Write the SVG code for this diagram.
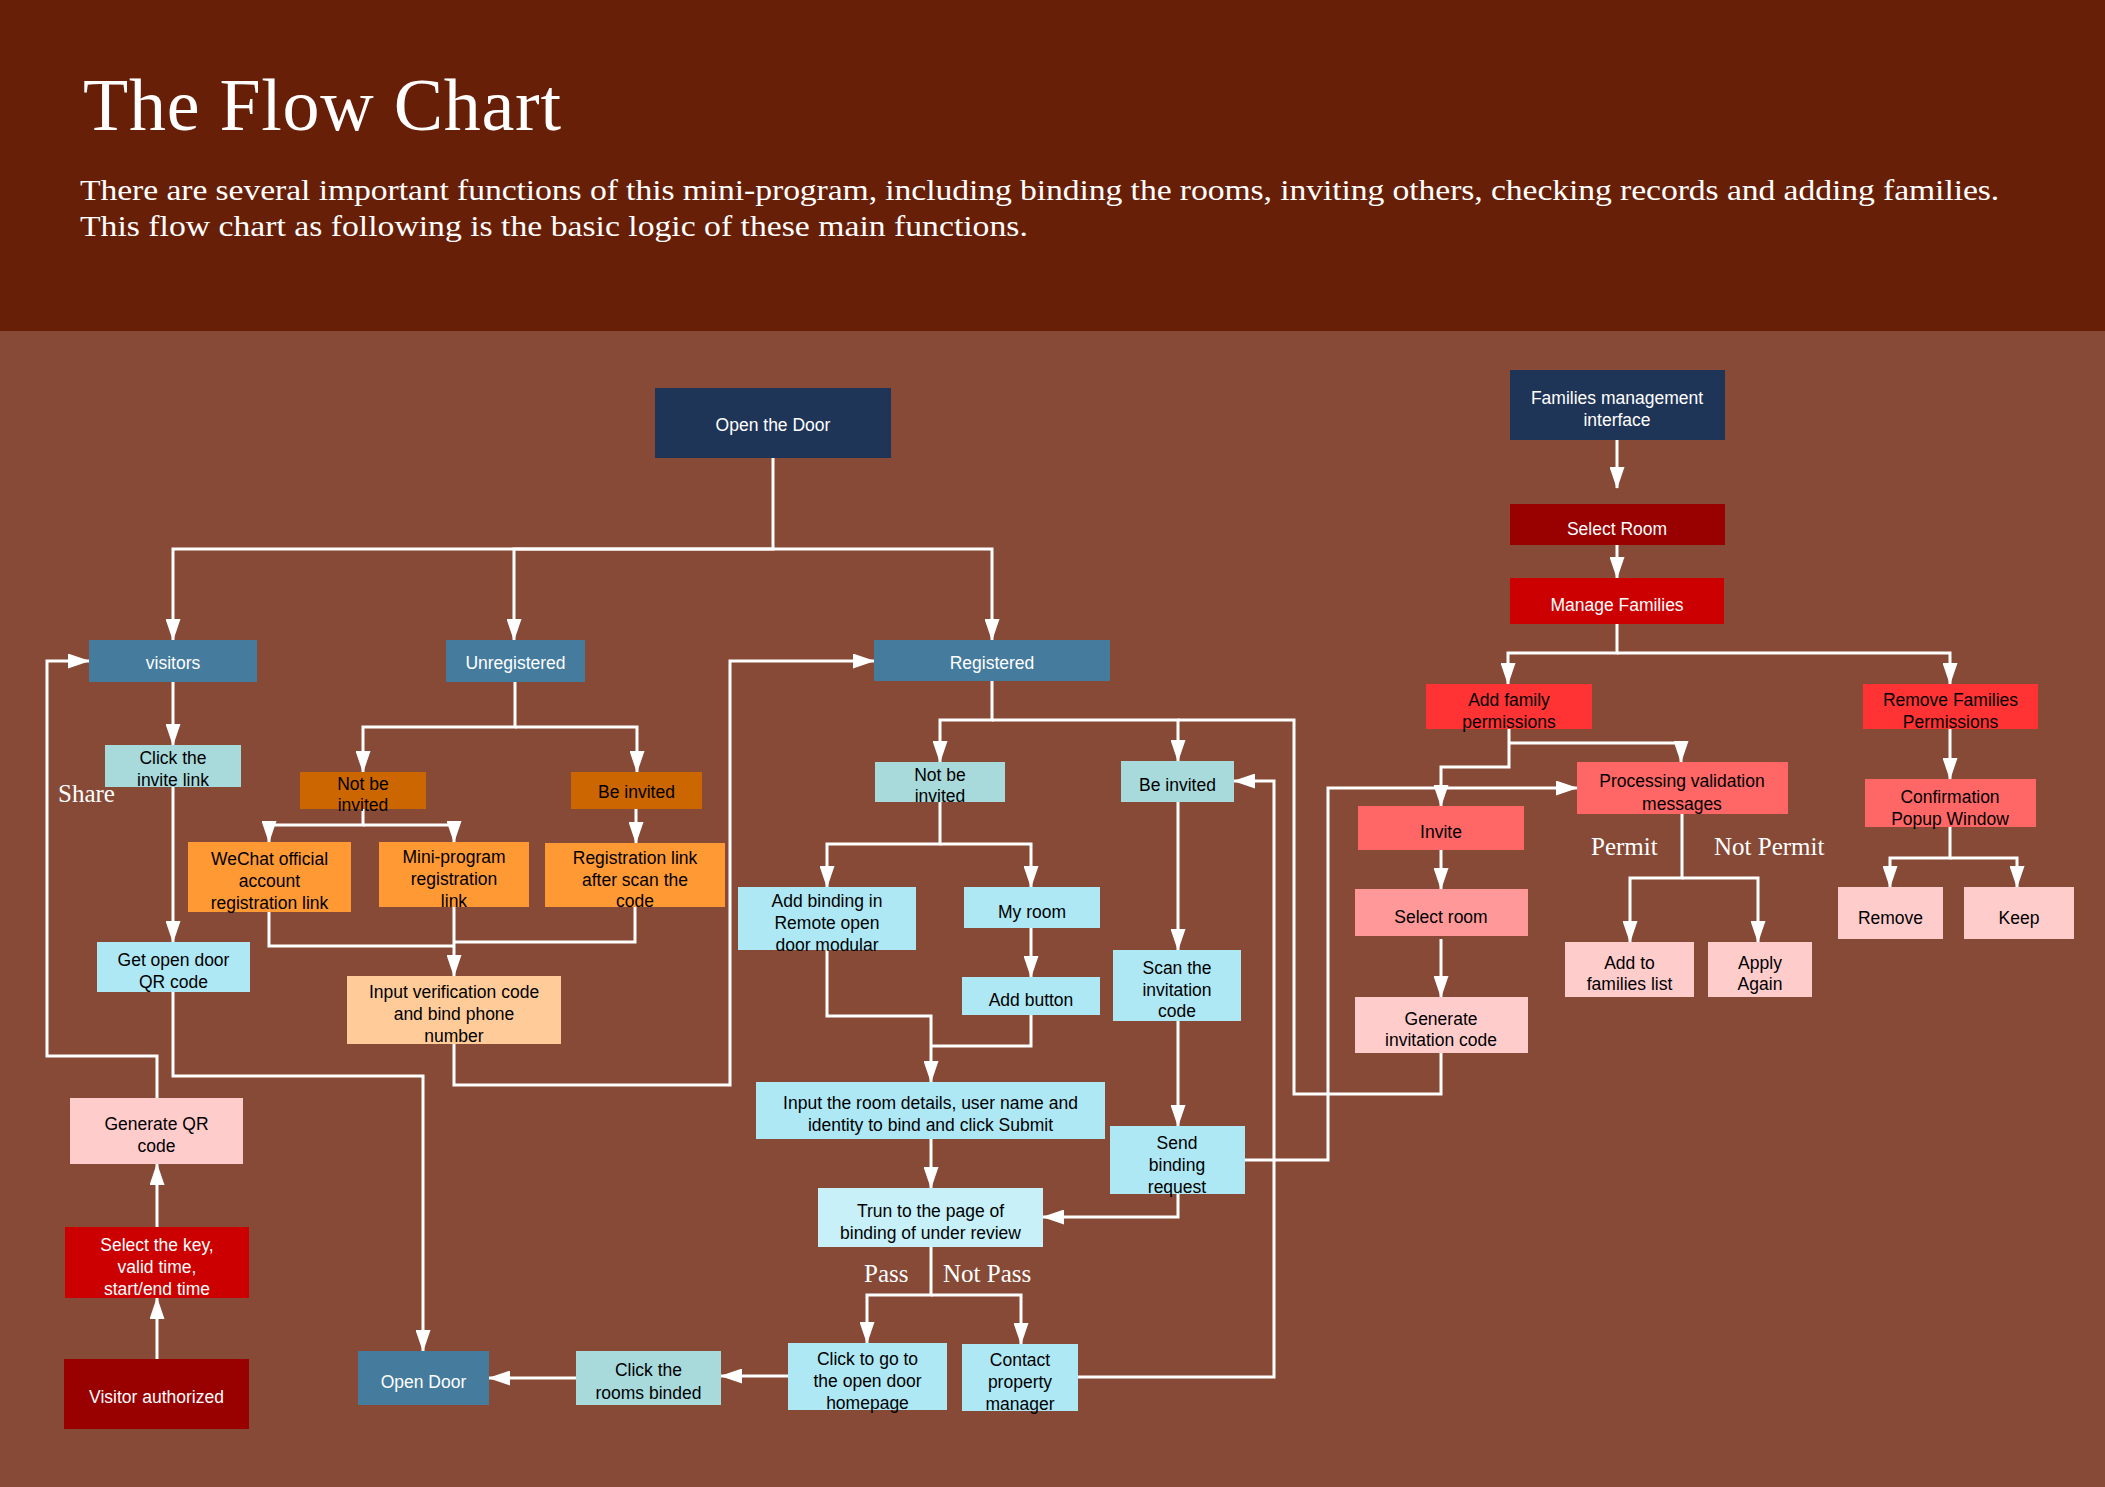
<svg xmlns="http://www.w3.org/2000/svg" width="2105" height="1487" viewBox="0 0 2105 1487">
<style>
.n text{font-family:"Liberation Sans",Arial,sans-serif;font-size:17.5px;text-anchor:middle;fill:#000;transform:translateY(1.5px)}
.n.w text{fill:#fff}
.lbl{font-family:"Liberation Serif","Times New Roman",serif;font-size:25px;fill:#fff}
.c path{fill:none;stroke:#fff;stroke-width:3}
.navy{fill:#1f3557}.steel{fill:#457b9d}.teal{fill:#a8dadc}.cyan{fill:#aee8f5}.cyan2{fill:#c7f0f9}
.dor{fill:#cc6600}.or{fill:#ff9933}.peach{fill:#ffcc99}.ppale{fill:#ffcccc}.red{fill:#cc0000}
.dred{fill:#990000}.bred{fill:#ff3333}.salmon{fill:#ff6666}.pink{fill:#ff9999}
</style>
<defs>
<marker id="ah" markerUnits="userSpaceOnUse" markerWidth="22" markerHeight="15" refX="21" refY="7.5" orient="auto"><path d="M0,0 L22,7.5 L0,15 Z" fill="#fff"/></marker>
</defs>
<rect x="0" y="0" width="2105" height="1487" fill="#864a37"/>
<rect x="0" y="0" width="2105" height="331" fill="#681f07"/>
<text x="83" y="130" font-family="'Liberation Serif','Times New Roman',serif" font-size="74" fill="#fff" textLength="478" lengthAdjust="spacing">The Flow Chart</text>
<text transform="translate(80,0) scale(1.123,1)" font-family="'Liberation Serif','Times New Roman',serif" font-size="30" fill="#fff">
<tspan x="0" y="200" textLength="1709" lengthAdjust="spacing">There are several important functions of this mini-program, including binding the rooms, inviting others, checking records and adding families.</tspan>
<tspan x="0" y="236" textLength="844" lengthAdjust="spacing">This flow chart as following is the basic logic of these main functions.</tspan>
</text>

<g id="connectors" class="c">
<path d="M773,458 V549 H173 V640" marker-end="url(#ah)"/>
<path d="M773,549 H514 V640" marker-end="url(#ah)"/>
<path d="M773,549 H992 V640" marker-end="url(#ah)"/>
<path d="M173,682 V745" marker-end="url(#ah)"/>
<path d="M173,787 V942" marker-end="url(#ah)"/>
<path d="M515,682 V727 H363 V772" marker-end="url(#ah)"/>
<path d="M515,727 H637 V772" marker-end="url(#ah)"/>
<path d="M363,809 V825 H269 V842" marker-end="url(#ah)"/>
<path d="M363,825 H454 V842" marker-end="url(#ah)"/>
<path d="M636,809 V843" marker-end="url(#ah)"/>
<path d="M269,912 V946 H454"/>
<path d="M635,907 V942 H454"/>
<path d="M454,907 V976" marker-end="url(#ah)"/>
<path d="M454,1044 V1085 H730 V661 H874" marker-end="url(#ah)"/>
<path d="M173,992 V1076 H423 V1351" marker-end="url(#ah)"/>
<path d="M157,1098 V1056 H47 V661 H89" marker-end="url(#ah)"/>
<path d="M157,1227 V1164" marker-end="url(#ah)"/>
<path d="M157,1359 V1298" marker-end="url(#ah)"/>
<path d="M576,1378 H489" marker-end="url(#ah)"/>
<path d="M788,1376 H721" marker-end="url(#ah)"/>
<path d="M992,681 V720 H940 V762" marker-end="url(#ah)"/>
<path d="M992,720 H1178 V761" marker-end="url(#ah)"/>
<path d="M1441,1053 V1094 H1294 V720 H1178"/>
<path d="M940,802 V844 H827 V887" marker-end="url(#ah)"/>
<path d="M940,844 H1031 V887" marker-end="url(#ah)"/>
<path d="M1031,928 V977" marker-end="url(#ah)"/>
<path d="M827,950 V1016 H931 V1082" marker-end="url(#ah)"/>
<path d="M1031,1015 V1046 H931"/>
<path d="M1178,802 V950" marker-end="url(#ah)"/>
<path d="M1178,1021 V1126" marker-end="url(#ah)"/>
<path d="M1178,1194 V1217 H1043" marker-end="url(#ah)"/>
<path d="M931,1139 V1188" marker-end="url(#ah)"/>
<path d="M931,1247 V1295 H867 V1343" marker-end="url(#ah)"/>
<path d="M931,1295 H1021 V1344" marker-end="url(#ah)"/>
<path d="M1078,1377 H1274 V781 H1234" marker-end="url(#ah)"/>
<path d="M1245,1160 H1328 V788 H1577" marker-end="url(#ah)"/>
<path d="M1617,440 V488" marker-end="url(#ah)"/>
<path d="M1617,545 V578" marker-end="url(#ah)"/>
<path d="M1617,624 V653 H1508 V684" marker-end="url(#ah)"/>
<path d="M1617,653 H1950 V684" marker-end="url(#ah)"/>
<path d="M1509,729 V767 H1441 V806" marker-end="url(#ah)"/>
<path d="M1509,743 H1681 V762" marker-end="url(#ah)"/>
<path d="M1441,850 V889" marker-end="url(#ah)"/>
<path d="M1441,939 V997" marker-end="url(#ah)"/>
<path d="M1682,814 V878 H1630 V942" marker-end="url(#ah)"/>
<path d="M1682,878 H1758 V942" marker-end="url(#ah)"/>
<path d="M1950,729 V779" marker-end="url(#ah)"/>
<path d="M1950,827 V858 H1890 V887" marker-end="url(#ah)"/>
<path d="M1950,858 H2017 V887" marker-end="url(#ah)"/>
</g>

<text class="lbl" x="58" y="802">Share</text>
<text class="lbl" x="864" y="1282">Pass</text>
<text class="lbl" x="943" y="1282">Not Pass</text>
<text class="lbl" x="1591" y="855">Permit</text>
<text class="lbl" x="1714" y="855">Not Permit</text>

<g id="open-the-door" class="n w"><rect class="navy" x="655" y="388" width="236" height="70"/><text x="773" y="429">Open the Door</text></g>
<g id="visitors" class="n w"><rect class="steel" x="89" y="640" width="168" height="42"/><text x="173" y="667">visitors</text></g>
<g id="unregistered" class="n w"><rect class="steel" x="446" y="640" width="139" height="42"/><text x="515.5" y="667">Unregistered</text></g>
<g id="registered" class="n w"><rect class="steel" x="874" y="640" width="236" height="41"/><text x="992" y="667">Registered</text></g>
<g id="click-invite-link" class="n"><rect class="teal" x="105" y="745" width="136" height="42"/><text><tspan x="173" y="762.5">Click the</tspan><tspan x="173" y="784.5">invite link</tspan></text></g>
<g id="not-be-invited-u" class="n"><rect class="dor" x="300" y="772" width="126" height="37"/><text><tspan x="363" y="788">Not be</tspan><tspan x="363" y="809.5">invited</tspan></text></g>
<g id="be-invited-u" class="n"><rect class="dor" x="571" y="772" width="131" height="37"/><text x="636.5" y="796.5">Be invited</text></g>
<g id="wechat-link" class="n"><rect class="or" x="188" y="842" width="163" height="70"/><text><tspan x="269.5" y="863">WeChat official</tspan><tspan x="269.5" y="885">account</tspan><tspan x="269.5" y="907">registration link</tspan></text></g>
<g id="mini-program-link" class="n"><rect class="or" x="379" y="842" width="150" height="65"/><text><tspan x="454" y="861">Mini-program</tspan><tspan x="454" y="883">registration</tspan><tspan x="454" y="905">link</tspan></text></g>
<g id="registration-link" class="n"><rect class="or" x="545" y="843" width="180" height="64"/><text><tspan x="635" y="862">Registration link</tspan><tspan x="635" y="884">after scan the</tspan><tspan x="635" y="905">code</tspan></text></g>
<g id="get-qr" class="n"><rect class="cyan" x="97" y="942" width="153" height="50"/><text><tspan x="173.5" y="964">Get open door</tspan><tspan x="173.5" y="986">QR code</tspan></text></g>
<g id="input-verification" class="n"><rect class="peach" x="347" y="976" width="214" height="68"/><text><tspan x="454" y="996">Input verification code</tspan><tspan x="454" y="1018">and bind phone</tspan><tspan x="454" y="1040">number</tspan></text></g>
<g id="generate-qr" class="n"><rect class="ppale" x="70" y="1098" width="173" height="66"/><text><tspan x="156.5" y="1128">Generate QR</tspan><tspan x="156.5" y="1150">code</tspan></text></g>
<g id="select-key" class="n w"><rect class="red" x="65" y="1227" width="184" height="71"/><text><tspan x="157" y="1249">Select the key,</tspan><tspan x="157" y="1271">valid time,</tspan><tspan x="157" y="1293">start/end time</tspan></text></g>
<g id="visitor-authorized" class="n w"><rect class="dred" x="64" y="1359" width="185" height="70"/><text x="156.5" y="1401">Visitor authorized</text></g>
<g id="open-door" class="n w"><rect class="steel" x="358" y="1351" width="131" height="54"/><text x="423.5" y="1386">Open Door</text></g>
<g id="click-rooms-binded" class="n"><rect class="teal" x="576" y="1351" width="145" height="54"/><text><tspan x="648.5" y="1374.5">Click the</tspan><tspan x="648.5" y="1397">rooms binded</tspan></text></g>

<g id="not-be-invited-r" class="n"><rect class="teal" x="875" y="762" width="130" height="40"/><text><tspan x="940" y="779">Not be</tspan><tspan x="940" y="800">invited</tspan></text></g>
<g id="be-invited-r" class="n"><rect class="teal" x="1121" y="761" width="113" height="41"/><text x="1177.5" y="789.5">Be invited</text></g>
<g id="add-binding" class="n"><rect class="cyan" x="738" y="887" width="178" height="63"/><text><tspan x="827" y="905">Add binding in</tspan><tspan x="827" y="927">Remote open</tspan><tspan x="827" y="949">door modular</tspan></text></g>
<g id="my-room" class="n"><rect class="cyan" x="964" y="887" width="136" height="41"/><text x="1032" y="916">My room</text></g>
<g id="add-button" class="n"><rect class="cyan" x="962" y="977" width="138" height="38"/><text x="1031" y="1004">Add button</text></g>
<g id="scan-code" class="n"><rect class="cyan" x="1113" y="950" width="128" height="71"/><text><tspan x="1177" y="972">Scan the</tspan><tspan x="1177" y="994">invitation</tspan><tspan x="1177" y="1015.5">code</tspan></text></g>
<g id="input-room" class="n"><rect class="cyan" x="756" y="1082" width="349" height="57"/><text><tspan x="930.5" y="1107">Input the room details, user name and</tspan><tspan x="930.5" y="1129">identity to bind and click Submit</tspan></text></g>
<g id="send-request" class="n"><rect class="cyan" x="1110" y="1126" width="135" height="68"/><text><tspan x="1177" y="1147">Send</tspan><tspan x="1177" y="1169">binding</tspan><tspan x="1177" y="1191">request</tspan></text></g>
<g id="under-review" class="n"><rect class="cyan2" x="818" y="1188" width="225" height="59"/><text><tspan x="930.5" y="1215">Trun to the page of</tspan><tspan x="930.5" y="1237">binding of under review</tspan></text></g>
<g id="click-go" class="n"><rect class="cyan" x="788" y="1343" width="159" height="67"/><text><tspan x="867.5" y="1363">Click to go to</tspan><tspan x="867.5" y="1385">the open door</tspan><tspan x="867.5" y="1407">homepage</tspan></text></g>
<g id="contact-manager" class="n"><rect class="cyan" x="962" y="1344" width="116" height="67"/><text><tspan x="1020" y="1364.5">Contact</tspan><tspan x="1020" y="1386.5">property</tspan><tspan x="1020" y="1408">manager</tspan></text></g>

<g id="families-mgmt" class="n w"><rect class="navy" x="1510" y="370" width="215" height="70"/><text><tspan x="1617" y="402">Families management</tspan><tspan x="1617" y="424">interface</tspan></text></g>
<g id="select-room-top" class="n w"><rect class="dred" x="1510" y="504" width="215" height="41"/><text x="1617" y="533">Select Room</text></g>
<g id="manage-families" class="n w"><rect class="red" x="1510" y="578" width="214" height="46"/><text x="1617" y="609.5">Manage Families</text></g>
<g id="add-family" class="n"><rect class="bred" x="1426" y="684" width="166" height="45"/><text><tspan x="1509" y="704.5">Add family</tspan><tspan x="1509" y="726">permissions</tspan></text></g>
<g id="remove-families" class="n"><rect class="bred" x="1863" y="684" width="175" height="45"/><text><tspan x="1950.5" y="704.5">Remove Families</tspan><tspan x="1950.5" y="726">Permissions</tspan></text></g>
<g id="processing" class="n"><rect class="salmon" x="1577" y="762" width="211" height="52"/><text><tspan x="1682" y="785.5">Processing validation</tspan><tspan x="1682" y="808">messages</tspan></text></g>
<g id="invite" class="n"><rect class="salmon" x="1358" y="806" width="166" height="44"/><text x="1441" y="836">Invite</text></g>
<g id="confirmation" class="n"><rect class="salmon" x="1865" y="779" width="171" height="48"/><text><tspan x="1950" y="801">Confirmation</tspan><tspan x="1950" y="823">Popup Window</tspan></text></g>
<g id="select-room-p" class="n"><rect class="pink" x="1355" y="889" width="173" height="47"/><text x="1441" y="921">Select room</text></g>
<g id="generate-invitation" class="n"><rect class="ppale" x="1355" y="997" width="173" height="56"/><text><tspan x="1441" y="1023">Generate</tspan><tspan x="1441" y="1044">invitation code</tspan></text></g>
<g id="add-to-list" class="n"><rect class="ppale" x="1565" y="942" width="129" height="55"/><text><tspan x="1629.5" y="967">Add to</tspan><tspan x="1629.5" y="988.5">families list</tspan></text></g>
<g id="apply-again" class="n"><rect class="ppale" x="1708" y="942" width="104" height="55"/><text><tspan x="1760" y="967">Apply</tspan><tspan x="1760" y="988.5">Again</tspan></text></g>
<g id="remove" class="n"><rect class="ppale" x="1838" y="887" width="105" height="52"/><text x="1890.5" y="922">Remove</text></g>
<g id="keep" class="n"><rect class="ppale" x="1964" y="887" width="110" height="52"/><text x="2019" y="922">Keep</text></g>
</svg>
